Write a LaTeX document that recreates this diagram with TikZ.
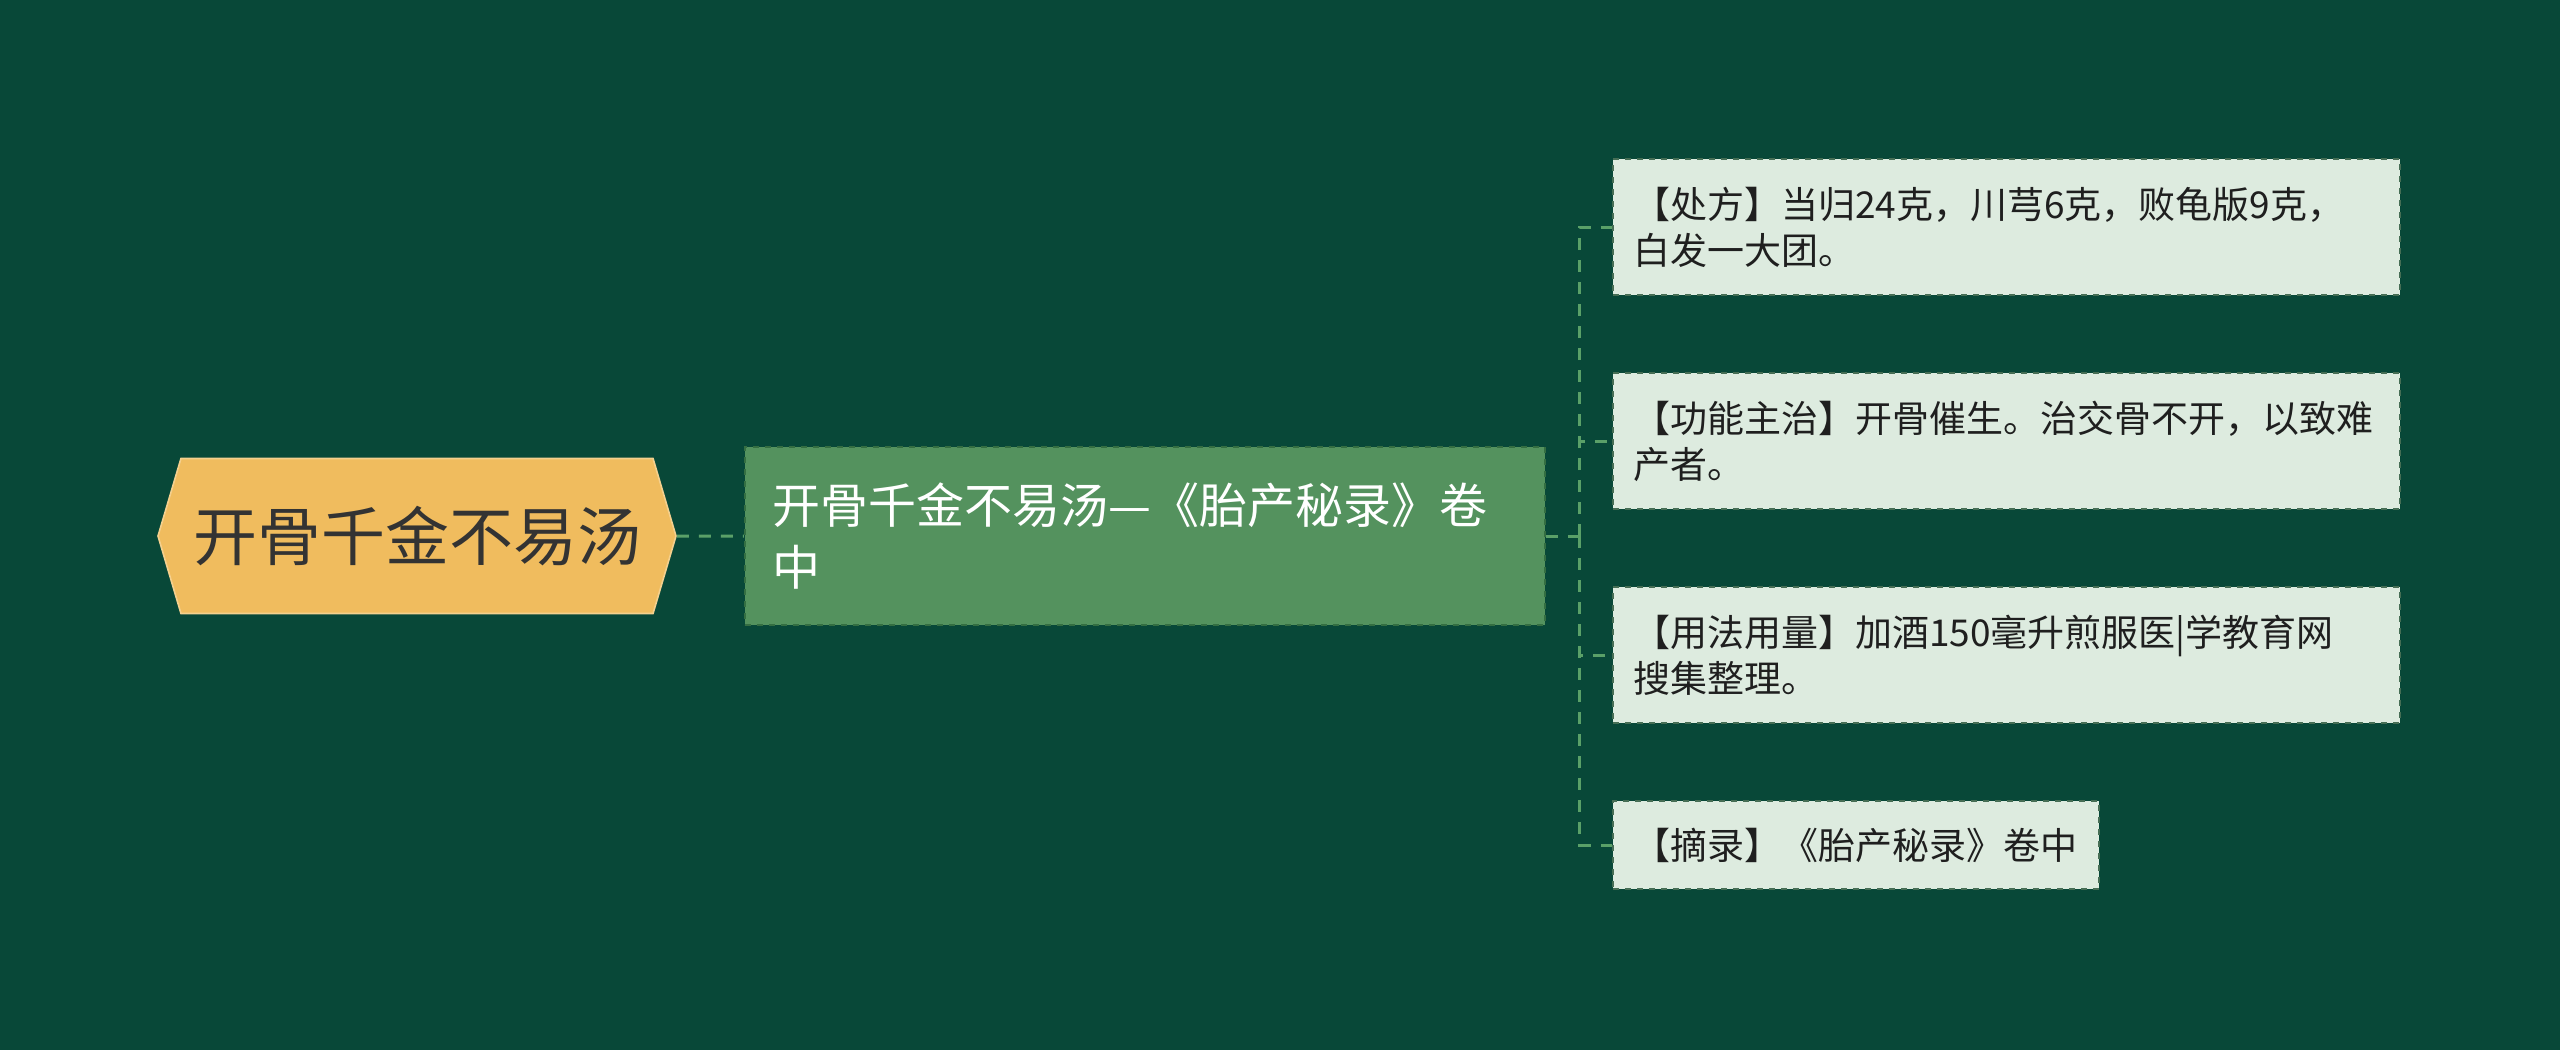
\documentclass[tikz,border=0pt]{standalone}
\usepackage{fontspec}
\setmainfont{Noto Sans CJK SC}
\usetikzlibrary{shapes.symbols,positioning}
\definecolor{bgdark}{RGB}{8,72,56}
\definecolor{rootyellow}{RGB}{240,188,94}
\definecolor{rootink}{RGB}{51,51,51}
\definecolor{topicgreen}{RGB}{84,146,94}
\definecolor{topicedge}{RGB}{52,110,66}
\definecolor{detailfill}{RGB}{221,235,223}
\definecolor{detailedge}{RGB}{70,110,85}
\definecolor{linkgreen}{RGB}{90,160,104}

\begin{document}
\begin{tikzpicture}[
    every node/.style={align=left},
    root/.style={signal, signal to=east and west, signal pointer angle=147, fill=rootyellow, draw=rootyellow!70!white, line width=0.8pt, minimum width=259pt, minimum height=77.5pt, inner sep=0pt, align=center, text=rootink, font=\fontsize{32pt}{38pt}\selectfont},
    topic/.style={rectangle, fill=topicgreen, draw=topicedge, dashed, line width=1pt, minimum width=400pt, minimum height=89pt, text width=372pt, inner xsep=14pt, text=white, font=\fontsize{24pt}{31pt}\selectfont},
    detail/.style={rectangle, fill=detailfill, draw=detailedge, dashed, line width=1pt, minimum height=68pt, text width=373.5pt, inner xsep=10pt, text=black!88, font=\fontsize{18.5pt}{23pt}\selectfont},
    link/.style={draw=linkgreen, line width=1.5pt, dash pattern=on 6pt off 5pt}
]

% Background
\fill[bgdark] (0,0) rectangle (1280pt,-525pt);

% Root and topic
\node[root] (root) at (208.5pt,-268pt) {开骨千金不易汤};
\node[topic, right=33.5pt of root] (mid) {开骨千金不易汤—《胎产秘录》卷\\中};
\coordinate[right=17pt of mid] (hub);

% Details
\node[detail, anchor=west] (b1) at (806pt,-113.5pt) {【处方】当归24克，川芎6克，败龟版9克，\\白发一大团。};
\node[detail, below=38pt of b1] (b2) {【功能主治】开骨催生。治交骨不开，以致难\\产者。};
\node[detail, below=38pt of b2] (b3) {【用法用量】加酒150毫升煎服医|学教育网\\搜集整理。};
\node[detail, minimum height=44pt, text width=223pt, below=38pt of b3.south west, anchor=north west] (b4) {【摘录】《胎产秘录》卷中};

% Connections
\draw[link] (root) -- (mid);
\draw[link] (mid) -- (hub);
\foreach \b in {b1,b2,b3,b4}
    \draw[link] (hub) |- (\b);

\end{tikzpicture}
\end{document}
